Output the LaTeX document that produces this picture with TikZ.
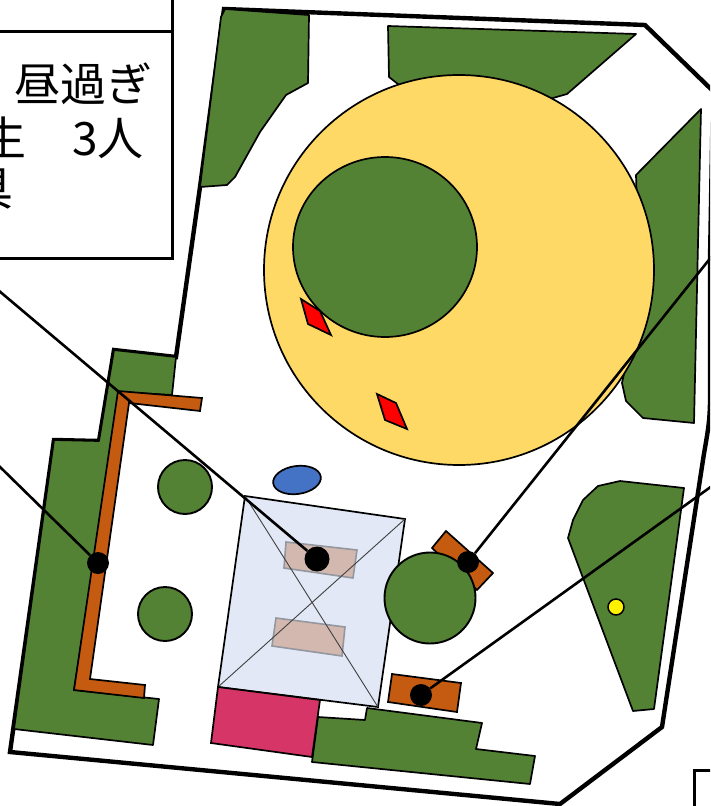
\documentclass[tikz,border=0pt]{standalone}
\usepackage{fontspec}
\newfontfamily\jpfont{Noto Sans CJK JP}
\definecolor{grn}{HTML}{548235}
\definecolor{org}{HTML}{C55A11}
\definecolor{yel}{HTML}{FFD966}
\definecolor{bldg}{HTML}{E2E8F5}
\definecolor{roomc}{HTML}{D3B8AF}
\definecolor{pinkc}{HTML}{D53567}
\definecolor{bluec}{HTML}{4472C4}
\tikzset{
  x=1pt,y=-1pt,
  site/.style={draw=black,line width=4.4pt,line join=miter},
  frameline/.style={draw=black,line width=3pt},
  greenarea/.style={draw=black,line width=1.7pt,fill=grn,line join=round},
  treeshape/.style={ellipse,draw=black,line width=1.9pt,fill=grn,inner sep=0pt,minimum width=#1,minimum height=#1},
  wall/.style={draw=black,line width=1.7pt,fill=org},
  room/.style={draw=black!35!bldg,line width=1.6pt,fill=roomc},
  marker/.style={circle,fill=black,draw=none,inner sep=0pt,minimum size=#1},
  leader/.style={draw=black,line width=2.6pt},
  jp/.style={font=\jpfont\fontsize{46}{46}\selectfont,inner sep=0pt,anchor=base west}
}
\usetikzlibrary{shapes.geometric}
\begin{document}
\begin{tikzpicture}
\useasboundingbox (0,0) rectangle (710,806);
\clip (0,0) rectangle (710,806);
\fill[white] (0,0) rectangle (710,806);
% site
\draw[site] (10,752) -- (54,440) -- (99,441) -- (114,350) -- (176,357) -- (200,187) -- (224,9) -- (645,25) -- (713,91) -- (710,260) -- (710,400) .. controls (710,425) and (706,440) .. (703,460) -- (662,727) -- (560,804) -- cycle;
% green areas
\draw[greenarea] (225,9) -- (309,15) -- (308,83) -- (286,95) -- (260,132) -- (235,177) -- (227,185) -- (200,187) -- (221,17) -- cycle;
\draw[greenarea] (388,26) -- (636,34) -- (567,94) -- (546,100) -- (500,110) -- (420,100) -- (403,88) -- (389,77) -- cycle;
\draw[greenarea] (701,109) -- (694,423) -- (643,418) -- (626,401) -- (622,383) -- (640,300) -- (636,175) -- cycle;
\draw[greenarea] (568,538) -- (573,520) -- (583,500) -- (598,486) -- (620,481) -- (684,488) -- (654,709) -- (633,711) -- cycle;
\draw[greenarea] (114,350) -- (176,357) -- (172,395) -- (120,392) -- (74,690) -- (159,699) -- (153,745) -- (14,729) -- (54,440) -- (99,441) -- cycle;
\draw[greenarea] (318,717) -- (365,720) -- (367,708) -- (482,723) -- (476,749) -- (535,756) -- (530,784) -- (312,762) -- cycle;
% big circle
\node[ellipse,draw=black,line width=1.7pt,fill=yel,inner sep=0pt,minimum width=390pt,minimum height=390pt] (bigcircle) at (459,270) {};
\node[ellipse,draw=black,line width=1.7pt,fill=grn,inner sep=0pt,minimum width=184pt,minimum height=180pt] (innercircle) at (385,247) {};
\draw[draw=black,line width=1.7pt,fill=red] (301,299) -- (320,311) -- (331,335) -- (308,324) -- cycle;
\draw[draw=black,line width=1.7pt,fill=red] (377,394) -- (396,403) -- (407,429) -- (385,420) -- cycle;
% wall
\draw[wall] (118,391) -- (202,398) -- (200,411) -- (129,403) -- (90,679) -- (145,685) -- (144,698) -- (74,690) -- cycle;
% small trees, pond
\node[treeshape=54pt] (treea) at (185,487) {};
\node[treeshape=54pt] (treeb) at (165,614) {};
\node[ellipse,draw=black,line width=1.7pt,fill=bluec,inner sep=0pt,minimum width=48pt,minimum height=28pt,rotate=8] (pond) at (297,480) {};
% building
\draw[draw=black,line width=1.7pt,fill=bldg] (245,496) -- (405,519) -- (378,707) -- (218,687) -- cycle;
\draw[room] (286,542) -- (357,550) -- (353,578) -- (284,568) -- cycle;
\draw[room] (276,618) -- (345,627) -- (342,656) -- (272,646) -- cycle;
\draw[draw=black!75,line width=.9pt] (245,496) -- (378,707) (405,519) -- (218,687);
\draw[draw=black,line width=1.7pt,fill=pinkc] (218,687) -- (320,700) -- (312,757) -- (211,743) -- cycle;
% right objects
\draw[wall] (446,531) -- (493,573) -- (477,590) -- (432,548) -- cycle;
\node[treeshape=91pt] (treec) at (430,598) {};
\draw[wall] (392,674) -- (461,683) -- (457,712) -- (388,702) -- cycle;
\node[circle,draw=black,line width=1.5pt,fill=yellow,inner sep=0pt,minimum size=16pt] (yellowdot) at (616,607) {};
% markers and leaders
\node[marker=22pt] (ma) at (98,563) {};
\node[marker=25pt] (mb) at (317,559) {};
\node[marker=22pt] (mc) at (468,562) {};
\node[marker=22pt] (md) at (421,695) {};
\coordinate (ea) at (-2,465);
\coordinate (eb) at (-2,290);
\coordinate (ec) at (712,256);
\coordinate (ed) at (712,486);
\draw[leader] (ea) -- (ma);
\draw[leader] (eb) -- (mb);
\draw[leader] (ec) -- (mc);
\draw[leader] (ed) -- (md);
% table
\draw[frameline,fill=white] (-5,31) -- (172,31) -- (172,258) -- (-5,258);
\draw[frameline] (172,-5) -- (172,31);
\node[jp] (ta) at (14,101) {昼過ぎ};
\node[jp] (tb) at (-20,155) {生　3人};
\node[jp] (tc) at (-33,205) {具};
% corner box
\draw[frameline] (694,810) -- (694,770) -- (714,770);
\end{tikzpicture}
\end{document}
